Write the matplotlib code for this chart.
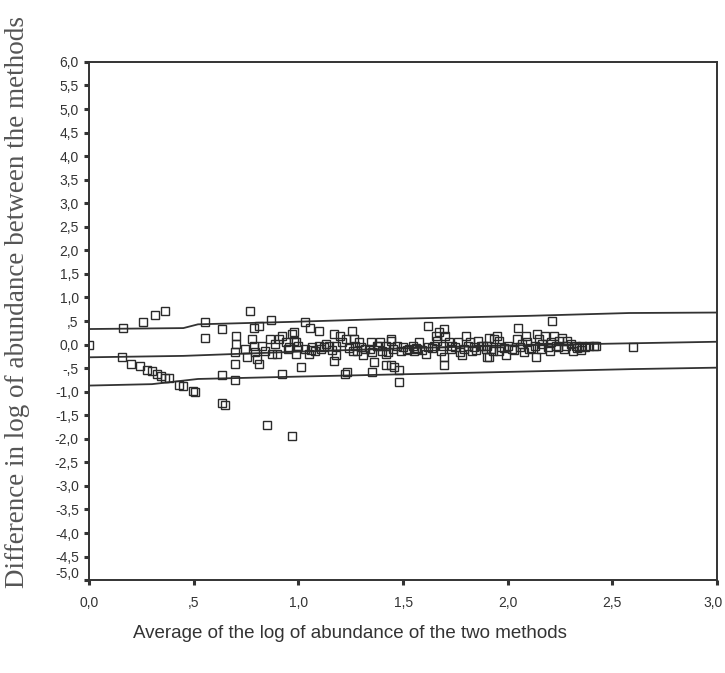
import matplotlib
matplotlib.use("Agg")
import matplotlib.pyplot as plt
import matplotlib.transforms as mtransforms
from matplotlib.ticker import FixedLocator, FixedFormatter

# ---- data ----
avg_log = [
    0.00, 0.16, 0.255, 0.316, 0.36,
    0.156, 0.20, 0.244, 0.276, 0.30, 0.324, 0.345, 0.364, 0.38,
    0.43, 0.448, 0.494, 0.507,
    0.555, 0.555, 0.635, 0.77, 0.87, 0.786, 0.813,
    0.70, 0.70, 0.695, 0.695, 0.635, 0.695, 0.92,
    0.635, 0.65, 0.85, 0.97,
    0.746, 0.755, 0.78, 0.786, 0.794, 0.80, 0.81, 0.826, 0.84, 0.866,
    0.874, 0.89, 0.906, 0.92, 0.94, 0.954, 0.97, 0.977, 0.898,
    1.03, 1.057, 1.097, 0.98, 0.99, 1.00, 0.95, 0.99, 1.01,
    1.03, 1.05, 1.066, 1.08, 1.097, 1.11, 1.13, 1.145, 1.17, 1.18, 1.18,
    1.17, 1.20, 1.21, 1.225, 1.22, 1.23, 1.257, 1.265, 1.27, 1.28, 1.29,
    1.30, 1.31, 1.32, 1.345, 1.353, 1.36, 1.353, 1.377, 1.39, 1.40, 1.416,
    1.42, 1.44, 1.45,
    1.62, 1.44, 1.42, 1.44, 1.456, 1.48, 1.48, 1.47, 1.49, 1.50, 1.53,
    1.545, 1.576, 1.568, 1.61, 1.62, 1.65, 1.655, 1.66, 1.67, 1.695, 1.70,
    1.69, 1.695, 1.695, 1.72, 1.735, 1.76, 1.78, 1.80, 1.81, 1.82, 1.84,
    1.86, 1.88, 1.895, 1.90, 1.93, 1.935,
    2.21, 1.91, 1.90, 1.92, 1.91, 1.95, 1.96, 1.97, 1.99, 2.00, 2.02,
    2.046, 2.05, 2.07, 2.086, 2.094, 2.10, 2.13, 2.134, 2.14, 2.15, 2.166,
    2.18, 2.19, 2.206, 2.22, 2.23, 2.245, 2.26, 2.28, 2.285, 2.30, 2.31,
    2.325, 2.34, 2.357, 2.37, 2.39, 2.41, 2.42, 2.60,
    1.06, 1.12, 1.16, 1.24, 1.34, 1.38, 1.52, 1.56, 1.59, 1.64, 1.73,
    1.75, 1.79, 1.85, 1.87, 1.98, 2.03, 2.06, 2.11, 2.16, 2.24, 2.27, 2.33,
    1.26, 1.43, 1.55, 1.68, 1.77, 1.83, 1.96, 2.08, 2.20, 2.35,
]
diff_log = [
    0.00, 0.35, 0.48, 0.62, 0.71,
    -0.27, -0.41, -0.46, -0.53, -0.57, -0.62, -0.67, -0.71, -0.72,
    -0.85, -0.87, -0.99, -1.00,
    0.48, 0.15, 0.33, 0.72, 0.53, 0.35, 0.40,
    0.19, 0.01, -0.16, -0.41, -0.65, -0.76, -0.63,
    -1.25, -1.28, -1.70, -1.94,
    -0.09, -0.27, 0.12, -0.02, -0.16, -0.30, -0.41, -0.02, -0.13, 0.12,
    -0.20, 0.01, 0.12, 0.19, 0.05, -0.06, 0.22, 0.08, -0.20,
    0.47, 0.36, 0.29, 0.26, 0.05, -0.02, -0.09, -0.20, -0.48,
    -0.09, -0.20, -0.06, -0.13, -0.02, -0.09, 0.01, -0.02, 0.22, -0.02, -0.23,
    -0.34, 0.19, 0.05, 0.12, -0.62, -0.58, 0.29, 0.12, -0.02, -0.13, 0.05,
    -0.06, -0.23, -0.09, 0.05, -0.16, -0.37, -0.58, -0.02, 0.05, -0.13, -0.02,
    -0.44, 0.08, -0.09,
    0.40, 0.12, -0.20, -0.44, -0.48, -0.55, -0.79, -0.02, -0.13, -0.06, -0.09,
    -0.02, 0.05, -0.09, -0.20, -0.06, -0.02, 0.19, 0.08, 0.26, 0.33, 0.19,
    -0.02, -0.27, -0.44, 0.05, -0.02, 0.05, -0.23, 0.19, -0.02, 0.05, -0.06,
    0.08, -0.02, -0.09, -0.27, -0.13, 0.12,
    0.51, 0.15, -0.02, -0.09, -0.27, 0.19, 0.08, -0.06, -0.23, -0.02, -0.09,
    0.12, 0.36, 0.01, 0.19, 0.05, -0.09, -0.02, -0.27, 0.22, 0.12, 0.01,
    0.19, -0.06, 0.05, 0.19, -0.02, 0.08, 0.15, -0.02, 0.08, 0.01, -0.13,
    -0.02, -0.06, -0.02, -0.06, -0.02, -0.02, -0.02, -0.06,
    -0.11, -0.05, -0.12, -0.08, -0.10, -0.04, -0.11, -0.07, -0.12, -0.08, -0.10,
    -0.05, -0.09, -0.11, -0.04, -0.07, -0.12, -0.05, -0.08, -0.10, -0.06, -0.09, -0.07,
    -0.14, -0.15, -0.13, -0.14, -0.15, -0.13, -0.14, -0.15, -0.13, -0.12,
]

upper_x = [0.0, 0.45, 0.52, 0.95, 1.40, 2.10, 2.58, 3.0]
upper_y = [0.33, 0.35, 0.43, 0.48, 0.54, 0.61, 0.67, 0.68]
mid_x = [0.0, 0.45, 1.0, 1.5, 2.0, 2.5, 3.0]
mid_y = [-0.27, -0.24, -0.15, -0.08, -0.02, 0.02, 0.06]
low_x = [0.0, 0.30, 0.52, 1.0, 1.5, 2.1, 2.6, 3.0]
low_y = [-0.87, -0.84, -0.73, -0.68, -0.63, -0.57, -0.52, -0.49]

x_ticks = [0.0, 0.5, 1.0, 1.5, 2.0, 2.5, 3.0]
x_tick_labels = ["0,0", ",5", "1,0", "1,5", "2,0", "2,5", "3,0"]
y_ticks = [6.0, 5.5, 5.0, 4.5, 4.0, 3.5, 3.0, 2.5, 2.0, 1.5, 1.0, 0.5, 0.0,
           -0.5, -1.0, -1.5, -2.0, -2.5, -3.0, -3.5, -4.0, -4.5, -5.0]
y_tick_labels = ["6,0", "5,5", "5,0", "4,5", "4,0", "3,5", "3,0", "2,5", "2,0",
                 "1,5", "1,0", ",5", "0,0", "-,5", "-1,0", "-1,5", "-2,0", "-2,5",
                 "-3,0", "-3,5", "-4,0", "-4,5", "-5,0"]

x_label = "Average of the log of abundance of the two methods"
y_label = "Difference in log of abundance between the methods"

# ---- figure ----
sans = ["Liberation Sans Narrow", "Liberation Sans", "DejaVu Sans"]
serif = ["Liberation Serif", "DejaVu Serif"]
plt.rcParams["font.family"] = sans

fig = plt.figure(figsize=(7.25, 6.73), dpi=100)
ax = fig.add_axes([0.123, 0.138, 0.866, 0.770])

line_kw = dict(color="#333333", lw=1.3)
ax.plot(upper_x, upper_y, **line_kw)
ax.plot(mid_x, mid_y, **line_kw)
ax.plot(low_x, low_y, **line_kw)

ax.plot(avg_log, diff_log, linestyle="none", marker="s", markersize=5.6,
        markerfacecolor="none", markeredgecolor="#2a2a2a", markeredgewidth=1.0)

ax.set_xlim(0, 3)
ax.set_ylim(-5, 6)
ax.xaxis.set_major_locator(FixedLocator(x_ticks))
ax.xaxis.set_major_formatter(FixedFormatter(x_tick_labels))
ax.yaxis.set_major_locator(FixedLocator(y_ticks))
ax.yaxis.set_major_formatter(FixedFormatter(y_tick_labels))
ax.tick_params(axis="both", direction="out", length=3.5, width=2.2,
               color="#333333", labelsize=10, labelcolor="#333333")
ax.tick_params(axis="x", pad=8)
ax.tick_params(axis="y", pad=4)

for s in ax.spines.values():
    s.set_linewidth(1.4)
    s.set_color("#333333")

# nudge edge labels like the reference
fig.canvas.draw()
xl = ax.get_xticklabels()
xl[-1].set_transform(xl[-1].get_transform() +
                     mtransforms.ScaledTranslation(-4 / 100, 0, fig.dpi_scale_trans))
yl = ax.get_yticklabels()
yl[-1].set_transform(yl[-1].get_transform() +
                     mtransforms.ScaledTranslation(0, 8 / 100, fig.dpi_scale_trans))

fig.text(350 / 725, 1 - 634 / 673, x_label, fontsize=13.5, color="#333333",
         ha="center", va="center", family=sans)
fig.text(18 / 725, 1 - 302 / 673, y_label, fontsize=19.5, color="#555555",
         ha="center", va="center", rotation=90, family=serif)

fig.savefig("out.png", dpi=100, facecolor="white")
